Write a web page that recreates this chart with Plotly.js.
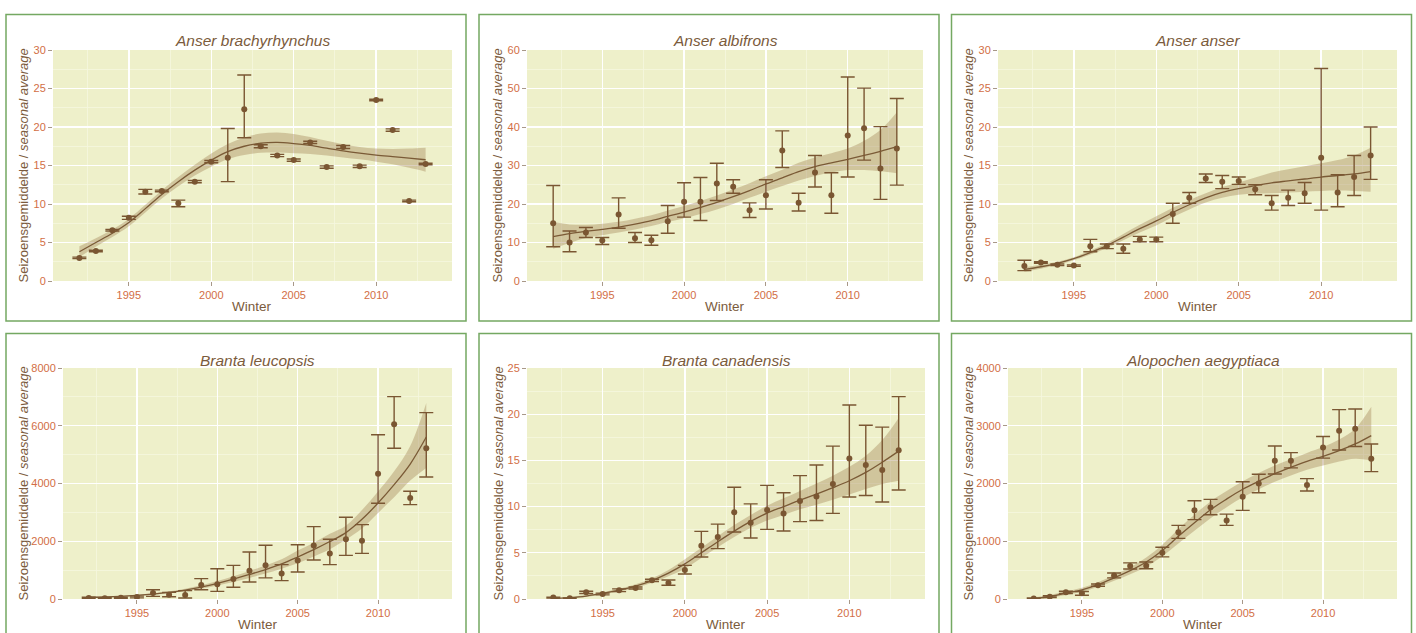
<!DOCTYPE html>
<html><head><meta charset="utf-8">
<script src="https://cdn.plot.ly/plotly-3.0.1.min.js"></script>
<style>html,body{margin:0;padding:0;background:#fff;}#chart{width:1416px;height:633px;}</style>
</head><body><div id="chart"></div>
<script>
// ---------- DATA ----------
const years = [1992,1993,1994,1995,1996,1997,1998,1999,2000,2001,2002,2003,2004,2005,2006,2007,2008,2009,2010,2011,2012,2013];
const xTickVals = [1995,2000,2005,2010];
const yTitle = 'Seizoensgemiddelde / <i>seasonal average</i>';
const xTitle = 'Winter';

// Anser brachyrhynchus
const brachyMean = [3.0,3.9,6.6,8.2,11.6,11.7,10.1,12.9,15.5,16.0,22.3,17.5,16.3,15.7,18.0,14.8,17.4,14.9,23.5,19.6,10.4,15.2];
const brachyLo   = [2.9,3.8,6.5,8.0,11.3,11.6,9.65,12.75,15.35,12.9,18.6,17.3,16.15,15.55,17.85,14.65,17.2,14.75,23.4,19.45,10.3,15.1];
const brachyHi   = [3.1,4.0,6.7,8.4,11.9,11.8,10.5,13.05,15.65,19.8,26.75,17.7,16.45,15.85,18.15,14.95,17.6,15.05,23.6,19.75,10.5,15.3];
const brachyFit   = [3.8,5.0,6.2,7.6,9.4,11.25,12.9,14.4,15.7,16.8,17.5,17.9,18.0,17.85,17.6,17.25,16.9,16.6,16.35,16.15,15.95,15.75];
const brachyFitLo = [3.1,4.45,5.7,7.1,8.9,10.7,12.3,13.7,14.85,15.8,16.35,16.65,16.7,16.6,16.5,16.3,16.05,15.8,15.5,15.15,14.7,14.2];
const brachyFitHi = [4.5,5.55,6.7,8.1,9.9,11.8,13.5,15.1,16.55,17.8,18.65,19.15,19.3,19.1,18.7,18.2,17.75,17.4,17.2,17.15,17.2,17.3];

// Anser albifrons
const albiMean = [15.0,10.0,12.6,10.5,17.3,11.1,10.6,15.5,20.6,20.6,25.3,24.5,18.4,22.3,33.9,20.3,28.2,22.3,37.8,39.7,29.2,34.4];
const albiLo   = [8.9,7.6,11.3,9.5,13.7,10.0,9.3,12.4,16.6,15.7,20.9,22.8,16.5,18.7,29.5,18.2,24.4,17.6,27.0,31.4,21.2,24.9];
const albiHi   = [24.8,13.0,13.9,11.3,21.6,12.6,11.9,19.6,25.5,26.9,30.6,26.3,20.3,26.3,39.0,22.8,32.6,28.1,53.0,50.1,40.1,47.4];
const albiFit   = [11.5,12.3,12.9,13.4,14.0,14.8,15.7,16.8,17.9,19.1,20.4,21.9,23.5,25.2,26.8,28.4,29.7,30.7,31.6,32.6,33.7,34.9];
const albiFitLo = [8.4,9.9,11.2,11.9,12.6,13.4,14.3,15.3,16.3,17.4,18.6,20.0,21.6,23.2,24.7,26.1,27.3,28.2,28.8,28.8,28.5,28.0];
const albiFitHi = [15.3,14.7,14.6,14.9,15.4,16.2,17.1,18.3,19.5,20.8,22.2,23.8,25.4,27.2,28.9,30.7,32.1,33.2,34.4,36.4,39.2,43.8];

// Anser anser
const anserMean = [1.95,2.4,2.1,2.0,4.5,4.5,4.2,5.4,5.4,8.7,10.8,13.3,12.9,13.0,11.9,10.1,10.8,11.4,16.0,11.5,13.5,16.3];
const anserLo   = [1.35,2.3,2.0,1.9,3.8,4.2,3.6,5.1,5.1,7.5,10.1,12.8,12.0,12.55,11.2,9.2,9.8,10.1,9.2,9.65,11.1,13.2];
const anserHi   = [2.7,2.5,2.2,2.1,5.4,4.8,4.8,5.8,5.7,10.1,11.5,13.9,13.7,13.5,12.5,11.1,11.8,12.8,27.6,13.8,16.3,20.0];
const anserFit   = [1.5,1.85,2.3,2.9,3.7,4.6,5.7,6.8,7.8,8.9,9.9,10.8,11.5,12.0,12.4,12.75,13.0,13.25,13.5,13.7,13.9,14.2];
const anserFitLo = [1.2,1.6,2.1,2.7,3.45,4.3,5.3,6.3,7.2,8.3,9.3,10.2,10.8,11.2,11.35,11.4,11.5,11.6,11.7,11.75,11.7,11.6];
const anserFitHi = [1.8,2.1,2.5,3.1,3.95,4.9,6.1,7.3,8.4,9.5,10.5,11.4,12.2,12.8,13.45,14.1,14.5,14.9,15.3,15.7,16.3,17.3];

// Branta leucopsis
const leucoMean = [35,25,45,70,210,150,140,485,510,690,980,1165,880,1330,1850,1580,2070,2020,4340,6050,3500,5220];
const leucoLo   = [10,5,25,40,90,80,35,320,265,405,590,730,635,935,1350,1190,1510,1580,3315,5220,3270,4225];
const leucoHi   = [60,45,65,100,320,230,290,705,1050,1165,1630,1860,1190,1880,2505,2070,2830,2575,5690,7010,3730,6455];
const leucoFit   = [60,70,90,125,170,230,310,415,545,690,850,1020,1215,1455,1710,1990,2300,2760,3325,3960,4675,5610];
const leucoFitLo = [30,45,65,100,140,195,265,355,465,590,730,880,1050,1240,1470,1720,2060,2440,2980,3520,4100,4540];
const leucoFitHi = [90,95,115,150,200,265,355,475,625,790,970,1160,1380,1680,1950,2260,2540,3080,3720,4420,5300,6790];

// Branta canadensis
const canaMean = [0.15,0.07,0.72,0.54,0.94,1.19,2.02,1.73,3.14,5.77,6.7,9.4,8.26,9.63,9.24,10.6,11.1,12.45,15.2,14.5,13.96,16.1];
const canaLo   = [0.1,0.03,0.6,0.45,0.8,1.08,1.9,1.48,2.7,4.55,5.45,7.25,6.6,7.54,7.36,8.37,8.5,9.27,11.04,11.2,10.5,11.8];
const canaHi   = [0.2,0.12,0.84,0.64,1.1,1.3,2.14,2.05,3.64,7.32,8.1,12.1,10.3,12.3,11.5,13.35,14.5,16.55,21.0,18.8,18.6,21.9];
const canaFit   = [0.05,0.15,0.32,0.6,0.95,1.4,2.0,2.8,3.8,5.0,6.2,7.35,8.4,9.3,10.0,10.7,11.35,12.05,12.8,13.7,14.8,16.0];
const canaFitLo = [0.0,0.07,0.22,0.48,0.8,1.2,1.75,2.45,3.3,4.45,5.6,6.7,7.7,8.5,9.1,9.7,10.2,10.75,11.3,11.9,12.45,12.8];
const canaFitHi = [0.1,0.23,0.42,0.72,1.1,1.6,2.25,3.15,4.3,5.55,6.8,8.0,9.1,10.1,10.9,11.7,12.5,13.35,14.3,15.5,17.2,19.6];

// Alopochen aegyptiaca
const alopMean = [10,40,115,100,240,405,570,575,800,1155,1535,1585,1360,1770,2000,2395,2395,1975,2625,2915,2950,2430];
const alopLo   = [0,25,95,65,220,365,520,525,730,1050,1375,1460,1275,1535,1840,2165,2270,1870,2440,2580,2640,2205];
const alopHi   = [20,55,135,130,260,450,625,640,895,1275,1700,1725,1470,2030,2160,2650,2535,2085,2815,3280,3290,2685];
const alopFit   = [5,45,100,160,250,365,490,640,840,1085,1320,1545,1730,1900,2040,2170,2280,2385,2470,2570,2685,2830];
const alopFitLo = [-20,20,70,125,210,315,430,560,740,960,1180,1400,1590,1760,1900,2030,2140,2240,2310,2380,2430,2400];
const alopFitHi = [30,70,130,195,290,415,550,720,940,1210,1460,1690,1870,2040,2180,2310,2420,2530,2630,2760,2950,3330];

// ---------- LAYOUT / STYLE ----------
const W = 1416, H = 633;
const BROWN = '#7A5632', TXT = '#7B5B3C', TICK = '#D26E45', BORDER = '#74A862';
const panels = [
  {name:'Anser brachyrhynchus', mean:brachyMean, lo:brachyLo, hi:brachyHi, fit:brachyFit, fitLo:brachyFitLo, fitHi:brachyFitHi, yr:[0,30], dt:5, box:[53,452,50,281], border:[6,466,14.5,321], ytx:23, xty:306, tty:41},
  {name:'Anser albifrons', mean:albiMean, lo:albiLo, hi:albiHi, fit:albiFit, fitLo:albiFitLo, fitHi:albiFitHi, yr:[0,60], dt:10, box:[527,923,50,281], border:[479,939,14.5,321], ytx:497, xty:306, tty:41},
  {name:'Anser anser', mean:anserMean, lo:anserLo, hi:anserHi, fit:anserFit, fitLo:anserFitLo, fitHi:anserFitHi, yr:[0,30], dt:5, box:[998,1397,50,281], border:[951.5,1411.5,14.5,321], ytx:968, xty:306, tty:41},
  {name:'Branta leucopsis', mean:leucoMean, lo:leucoLo, hi:leucoHi, fit:leucoFit, fitLo:leucoFitLo, fitHi:leucoFitHi, yr:[0,8000], dt:2000, box:[63,452,368,599], border:[6,466,333.5,660], ytx:23, xty:624, tty:360},
  {name:'Branta canadensis', mean:canaMean, lo:canaLo, hi:canaHi, fit:canaFit, fitLo:canaFitLo, fitHi:canaFitHi, yr:[0,25], dt:5, box:[527,925,368,599], border:[479,939,333.5,660], ytx:498, xty:624, tty:360},
  {name:'Alopochen aegyptiaca', mean:alopMean, lo:alopLo, hi:alopHi, fit:alopFit, fitLo:alopFitLo, fitHi:alopFitHi, yr:[0,4000], dt:1000, box:[1008,1397,368,599], border:[951.5,1411.5,333.5,660], ytx:968, xty:624, tty:360}
];

const data = [];
const layout = {
  width: W, height: H, margin:{l:0,r:0,t:0,b:0},
  paper_bgcolor:'#ffffff', plot_bgcolor:'#EEF0CA',
  showlegend:false, font:{family:'Liberation Sans, Arial, sans-serif', color:TXT},
  annotations:[], shapes:[]
};
const px = v => v / W, py = v => 1 - v / H;

panels.forEach((p, i) => {
  const n = i === 0 ? '' : String(i + 1);
  const xa = 'x' + n, ya = 'y' + n;
  data.push({x:years, y:p.fitLo, xaxis:xa, yaxis:ya, mode:'lines', line:{width:0, shape:'spline'}, hoverinfo:'skip'});
  data.push({x:years, y:p.fitHi, xaxis:xa, yaxis:ya, mode:'lines', line:{width:0, shape:'spline'}, fill:'tonexty', fillcolor:'rgba(158,126,78,0.37)', hoverinfo:'skip'});
  data.push({x:years, y:p.fit, xaxis:xa, yaxis:ya, mode:'lines', line:{color:'#7A5A36', width:1.3, shape:'spline'}});
  data.push({x:years, y:p.mean, xaxis:xa, yaxis:ya, mode:'markers', marker:{color:BROWN, size:6},
    error_y:{type:'data', symmetric:false,
      array: p.hi.map((h, k) => h - p.mean[k]),
      arrayminus: p.mean.map((m, k) => m - p.lo[k]),
      color:BROWN, thickness:1.4, width:7}});
  const [x0, x1, y0, y1] = p.box;
  layout['xaxis' + n] = {
    domain:[px(x0), px(x1)], anchor:ya, range:[1990.4, 2014.6],
    tickmode:'array', tickvals:xTickVals, ticks:'outside', ticklen:4, tickwidth:1, tickcolor:'#A89888',
    tickfont:{size:11, color:TICK}, showgrid:true, gridcolor:'#FFFFFF', gridwidth:1.4,
    zeroline:false, showline:false,
    minor:{tickmode:'array', tickvals:[1992.5,1997.5,2002.5,2007.5,2012.5], showgrid:true, gridcolor:'#F5F7DE', gridwidth:0.8, ticks:''}
  };
  layout['yaxis' + n] = {
    domain:[py(y1), py(y0)], anchor:xa, range:p.yr, tick0:0, dtick:p.dt,
    ticks:'outside', ticklen:4, tickwidth:1, tickcolor:'#A89888',
    tickfont:{size:11, color:TICK}, showgrid:true, gridcolor:'#FFFFFF', gridwidth:1.4,
    zeroline:false, showline:false,
    minor:{tick0:0, dtick:p.dt / 2, showgrid:true, gridcolor:'#F5F7DE', gridwidth:0.8, ticks:''}
  };
  const cx = (x0 + x1) / 2;
  layout.annotations.push({xref:'paper', yref:'paper', x:px(cx), y:py(p.tty), text:p.name, showarrow:false,
    xanchor:'center', yanchor:'middle', font:{size:15.5, color:TXT, style:'italic'}});
  layout.annotations.push({xref:'paper', yref:'paper', x:px(cx), y:py(p.xty), text:xTitle, showarrow:false,
    xanchor:'center', yanchor:'middle', font:{size:13.5, color:TXT}});
  layout.annotations.push({xref:'paper', yref:'paper', x:px(p.ytx), y:py((y0 + y1) / 2), text:yTitle, showarrow:false,
    textangle:-90, xanchor:'center', yanchor:'middle', font:{size:13, color:TXT}});
  const [bx0, bx1, by0, by1] = p.border;
  layout.shapes.push({type:'rect', xref:'paper', yref:'paper', x0:px(bx0), x1:px(bx1), y0:py(by1), y1:py(by0),
    line:{color:BORDER, width:1.5}, fillcolor:'rgba(0,0,0,0)', layer:'below'});
});

Plotly.newPlot('chart', data, layout, {displayModeBar:false, staticPlot:true});
</script>
</body></html>
